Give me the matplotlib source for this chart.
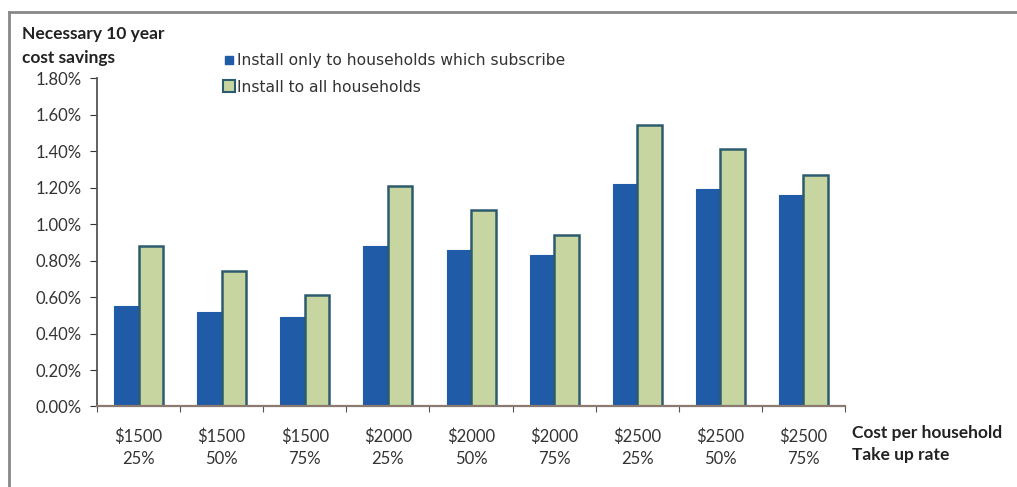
import numpy as np
import matplotlib.pyplot as plt
from matplotlib.lines import Line2D
from matplotlib.ticker import FuncFormatter

plt.rcParams['font.family'] = ['Lato', 'DejaVu Sans']

# data (percent)
costs = ['$1500', '$1500', '$1500', '$2000', '$2000', '$2000', '$2500', '$2500', '$2500']
rates = ['25%', '50%', '75%', '25%', '50%', '75%', '25%', '50%', '75%']
subscribers_only = [0.55, 0.52, 0.49, 0.88, 0.855, 0.83, 1.22, 1.19, 1.16]
all_households = [0.88, 0.745, 0.61, 1.21, 1.075, 0.94, 1.545, 1.41, 1.27]
series_names = ['Install only to households which subscribe', 'Install to all households']

blue = '#1f5ba6'
green = '#c7d6a1'
edge = '#2d5b6e'

fig = plt.figure(figsize=(10.17, 4.87), dpi=100)
ax = fig.add_axes([0.0954, 0.1653, 0.7355, 0.6745])

x = np.arange(len(costs))
w = 0.295
ax.bar(x - w / 2, subscribers_only, w, color=blue, edgecolor=blue, linewidth=0.8)
ax.bar(x + w / 2, all_households, w, color=green, edgecolor=edge, linewidth=1.8)

ax.set_xlim(-0.5, len(costs) - 0.5)
ax.set_ylim(0, 1.8)
ax.set_yticks(np.arange(0, 1.81, 0.2))
ax.yaxis.set_major_formatter(FuncFormatter(lambda v, p: f'{v:.2f}%'))

# category boundary ticks on the x axis, labels centred
ax.set_xticks(np.arange(-0.5, len(costs)), minor=False)
ax.set_xticklabels([])
ax.set_xticks(x, minor=True)
ax.set_xticklabels([f'{c}\n{r}' for c, r in zip(costs, rates)], minor=True)
ax.tick_params(axis='x', which='minor', length=0, pad=16, labelsize=12, colors='#333333')
ax.tick_params(axis='x', which='major', length=4, direction='out', color='#555555')
ax.tick_params(axis='y', length=5, direction='out', labelsize=12, colors='#333333', pad=6)
for lbl in ax.get_xticklabels(minor=True):
    lbl.set_linespacing(1.45)

for s in ['top', 'right']:
    ax.spines[s].set_visible(False)
ax.spines['left'].set_color('#555555')
ax.spines['left'].set_linewidth(1.3)
ax.spines['bottom'].set_color('#8a7a70')
ax.spines['bottom'].set_linewidth(1.6)

# legend
h1 = Line2D([], [], marker='s', linestyle='none', markersize=6, markerfacecolor=blue,
            markeredgecolor=blue)
h2 = Line2D([], [], marker='s', linestyle='none', markersize=8, markerfacecolor=green,
            markeredgecolor=edge, markeredgewidth=1.5)
fig.legend([h1, h2], series_names, loc='upper left', bbox_to_anchor=(0.2075, 0.919),
           frameon=False, handlelength=0.5, handletextpad=0.25, labelspacing=0.72,
           prop={'family': 'DejaVu Sans', 'size': 11.2}, labelcolor='#333333')

fig.text(0.022, 0.946, 'Necessary 10 year\ncost savings', fontsize=12.5, fontweight='bold',
         va='top', ha='left', linespacing=1.58, color='#222222')
fig.text(0.838, 0.128, 'Cost per household\nTake up rate', fontsize=12.5, fontweight='bold',
         va='top', ha='left', linespacing=1.45, color='#222222')

# outer frame (top and left edges visible)
fig.add_artist(Line2D([0.009, 1.0], [0.976, 0.976], transform=fig.transFigure,
                      color='#888888', linewidth=2))
fig.add_artist(Line2D([0.009, 0.009], [0.0, 0.976], transform=fig.transFigure,
                      color='#888888', linewidth=2))

fig.savefig('out.png', dpi=100)
